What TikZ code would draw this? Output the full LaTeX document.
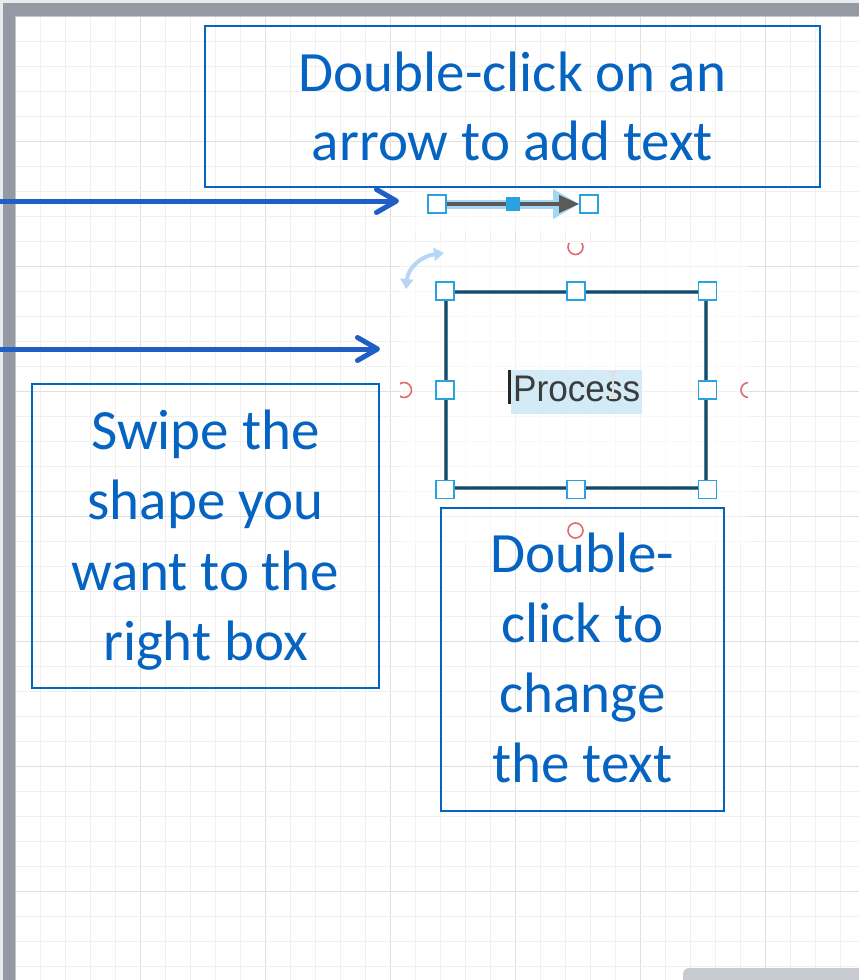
\documentclass[tikz,border=0pt]{standalone}
\usepackage{fontspec}
\setmainfont{Carlito}
\newfontfamily\uifont{Liberation Sans}
\usetikzlibrary{arrows.meta}

\definecolor{calloutblue}{HTML}{0563C1}
\definecolor{arrowblue}{HTML}{1F5FC5}
\definecolor{framegray}{HTML}{939AA4}
\definecolor{outergray}{HTML}{E9EAEC}
\definecolor{gridminor}{HTML}{F0F0F0}
\definecolor{gridmajor}{HTML}{E0E0E0}
\definecolor{handleblue}{HTML}{29A3E0}
\definecolor{glowblue}{HTML}{A3D6F2}
\definecolor{procedge}{HTML}{3A3F44}
\definecolor{procglow}{HTML}{2F8CC0}
\definecolor{edgegray}{HTML}{5A5A5A}
\definecolor{hintred}{HTML}{E06B73}
\definecolor{selectbg}{HTML}{D3EAF7}
\definecolor{rotblue}{HTML}{B6D6F3}
\definecolor{proctext}{HTML}{3C3C3C}
\definecolor{scrollgray}{HTML}{C8CBD1}

\begin{document}
\begin{tikzpicture}[x=1pt,y=-1pt,
  callout/.style={draw=calloutblue, line width=2pt, inner sep=0pt},
  callouttext/.style={text=calloutblue, inner sep=0pt, anchor=base},
  pointer/.style={draw=arrowblue, line width=5pt,
    -{Straight Barb[length=20pt,width=23pt,round]}},
  handle/.style={draw=handleblue, fill=white, line width=1.6pt,
    minimum size=18pt, inner sep=0pt, rectangle},
  midhandle/.style={fill=handleblue, draw=handleblue, line width=0.8pt,
    minimum size=13pt, inner sep=0pt, rectangle},
  hint/.style={draw=hintred, line width=1.6pt},
]
\useasboundingbox (0,0) rectangle (859,980);

% window chrome around the page
\fill[outergray] (0,0) rectangle (859,980);
\fill[white] (15.5,16) rectangle (859,980);
\fill[framegray] (3,3) rectangle (859,16);
\fill[framegray] (3,3) rectangle (15.5,980);
\draw[gray!45, line width=0.8pt] (15.5,980) -- (15.5,16.3) -- (859,16.3);

% page grid
\foreach \i in {1,...,34} {
  \pgfmathtruncatemacro{\major}{mod(\i,5)==0 ? 1 : 0}
  \ifnum\major=1
    \draw[gridmajor, line width=1pt] ({15.5+25*\i},16.5) -- ({15.5+25*\i},980);
  \else
    \draw[gridminor, line width=1pt] ({15.5+25*\i},16.5) -- ({15.5+25*\i},980);
  \fi
}
\foreach \j in {1,...,39} {
  \pgfmathtruncatemacro{\major}{mod(\j,5)==0 ? 1 : 0}
  \ifnum\major=1
    \draw[gridmajor, line width=1pt] (16,{16.7+25*\j}) -- (859,{16.7+25*\j});
  \else
    \draw[gridminor, line width=1pt] (16,{16.7+25*\j}) -- (859,{16.7+25*\j});
  \fi
}

% lighter backdrops under the selected edge and shape
\fill[white, opacity=0.55] (415,186) rectangle (610,232);
\fill[white, opacity=0.55] (400,243) rectangle (748,545);

% horizontal scrollbar
\fill[scrollgray, rounded corners=6pt] (683,968) rectangle (875,992);

% callout boxes
\node[callout, minimum width=615pt, minimum height=161pt] (topbox) at (512.5,106.5) {};
\node[callouttext] (toptext) at (512.5,91)
  {\parbox[t]{615pt}{\centering\fontsize{57}{69}\selectfont Double-click on an\\arrow to add text}};

\node[callout, minimum width=347pt, minimum height=304pt] (leftbox) at (205.5,536) {};
\node[callouttext] (lefttext) at (205.5,449)
  {\parbox[t]{347pt}{\centering\fontsize{57}{70.5}\selectfont Swipe the\\shape you\\want to the\\right box}};

\node[callout, minimum width=283pt, minimum height=303pt] (botbox) at (582.5,659.5) {};
\node[callouttext] (bottext) at (582.5,572)
  {\parbox[t]{283pt}{\centering\fontsize{57}{70.3}\selectfont Double-\\click to\\change\\the text}};

% selected edge with its handles
\node[handle] (e1) at (437,204) {};
\node[handle] (e2) at (589,204) {};
\node[midhandle] (em) at (513,204) {};
\draw[edgegray, line width=3.5pt, -{Triangle[length=20pt,width=17pt]},
  preaction={draw=glowblue, line width=9pt, -{Triangle[length=26pt,width=28pt]}}]
  (e1.center) -- (e2.west);
\node[handle] at (e1) {};
\node[handle] at (e2) {};
\node[midhandle] at (em) {};

% selected process shape
\node[rectangle, minimum width=260pt, minimum height=196pt, inner sep=0pt,
  draw=procedge, line width=2.6pt,
  preaction={draw=procglow, line width=4.8pt}] (proc) at (576,390) {};

% text being edited inside the shape
\fill[selectbg] (511,370) rectangle (641.5,414);
\node[anchor=base west, inner sep=0pt, xscale=0.95, text=proctext,
  font=\uifont\fontsize{37}{37}\selectfont] (ptext) at (513,401.7) {Process};
\fill[black!85] (507.8,369.5) rectangle (511.4,403.5);
\draw[white!88!black, line width=1.3pt] (613,373) -- (613,397)
  (609,372) -- (617,372) (609,398) -- (617,398);

% resize handles
\foreach \a/\n in {north west/hnw, north/hn, north east/hne, west/hw,
                   east/he, south west/hsw, south/hs, south east/hse}
  \node[handle] (\n) at (proc.\a) {};

% connection hints, cut off at the backdrop edges
\begin{scope}
  \clip (400,243) rectangle (748,545);
  \draw[hint] (575.5,247) circle (7.5pt);
  \draw[hint] (404,390) circle (7.5pt);
  \draw[hint] (748.5,390) circle (7.5pt);
  \draw[hint] (575.5,530.5) circle (7.5pt);
\end{scope}

% rotation handle
\draw[rotblue, line width=4pt,
  {Triangle[length=10pt,width=13pt]}-{Triangle[length=10pt,width=13pt]}]
  (406,289) .. controls (408,268) and (421,256) .. (444,253);

% pointers from the left edge
\coordinate (p1from) at (0,201);
\coordinate (p1to) at (399,201);
\coordinate (p2from) at (0,349);
\coordinate (p2to) at (380,349);
\draw[pointer] (p1from) -- (p1to);
\draw[pointer] (p2from) -- (p2to);
\end{tikzpicture}
\end{document}
